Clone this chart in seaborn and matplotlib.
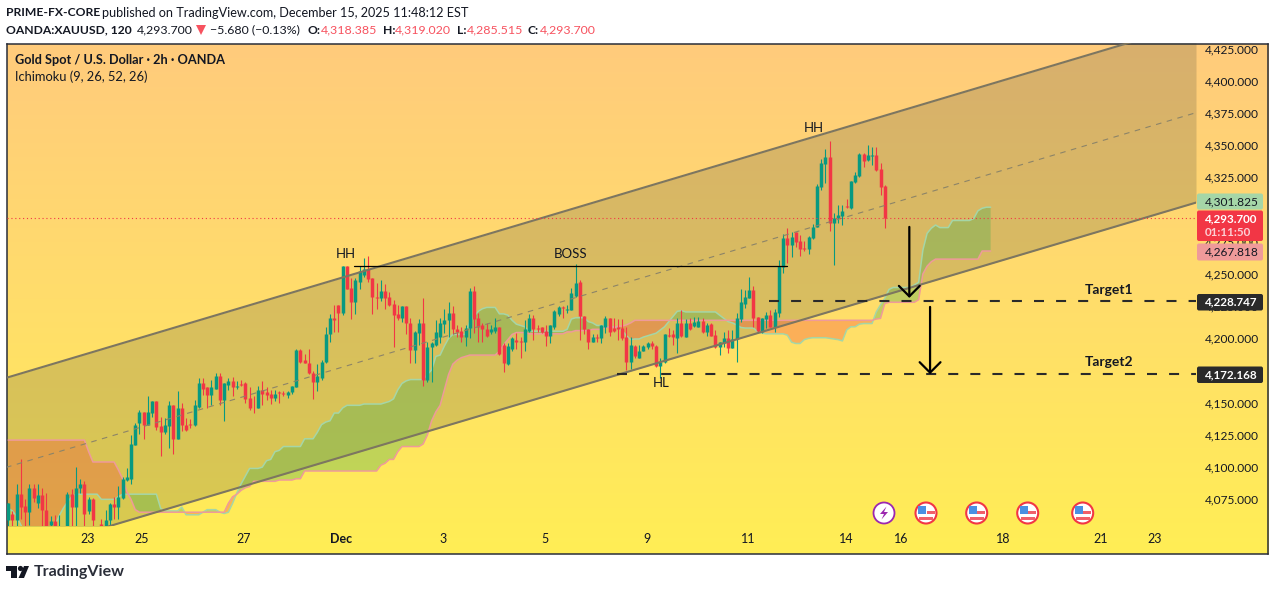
import numpy as np
import pandas as pd
import seaborn as sns
import matplotlib.pyplot as plt
from matplotlib.colors import LinearSegmentedColormap
from matplotlib.patches import Circle, FancyBboxPatch, Polygon, Rectangle

# --- candles ---
OPEN = [
    4059, 4064, 4059, 4079, 4070, 4065, 4084, 4072, 4078, 4067,
    4055, 4058, 4045, 4045, 4050, 4079, 4069, 4084, 4087, 4066,
    4075, 4052, 4056, 4052, 4059, 4071, 4069, 4076, 4090, 4091,
    4117, 4134, 4143, 4133, 4142, 4151, 4132, 4127, 4132, 4148,
    4122, 4146, 4133, 4133.5, 4133, 4147, 4165, 4162, 4156, 4161,
    4171, 4152, 4164, 4167, 4162.5, 4164.5, 4165, 4154, 4147, 4146,
    4160, 4158, 4157, 4154, 4158, 4157.5, 4156, 4158, 4162, 4191,
    4183, 4181, 4173, 4166, 4169, 4182, 4203, 4216, 4226, 4220,
    4256, 4239, 4228, 4244, 4249, 4254, 4247, 4232, 4231, 4237,
    4232, 4227, 4219, 4216, 4225, 4212, 4191, 4204, 4212, 4168,
    4193, 4195, 4201, 4211, 4214, 4220, 4207, 4206, 4201, 4208,
    4237, 4216, 4210.5, 4207, 4205, 4206, 4209, 4195, 4180, 4192,
    4199, 4198, 4197.5, 4206, 4216, 4208, 4209, 4206, 4202, 4209,
    4219, 4224, 4222, 4222, 4233, 4244, 4217, 4207, 4197.5, 4201,
    4200, 4209, 4216, 4208, 4208.5, 4208, 4201, 4182, 4194, 4185,
    4190.5, 4193, 4196, 4194, 4178.5, 4181.5, 4202.5, 4203, 4200.3, 4211.7,
    4201, 4211.7, 4209.6, 4209, 4213.8, 4205.2, 4211.2, 4202.6, 4193.6, 4196.2,
    4200, 4192.8, 4199.3, 4214.8, 4226.7, 4231.6, 4237.6, 4216.9, 4205.2, 4215,
    4218.2, 4209.1, 4220, 4255.7, 4277.7, 4272.5, 4282.3, 4275.6, 4270.2, 4269.4,
    4277.7, 4286.2, 4317.8, 4335.4, 4340.6, 4289.9, 4293.2, 4295, 4302.8, 4301,
    4321.2, 4326.1, 4343.2, 4338.5, 4341.9, 4342.1, 4331.3, 4318.385,
]
HIGH = [
    4072, 4066, 4087, 4106, 4075, 4087, 4087, 4087, 4084, 4080,
    4062, 4063, 4063, 4052, 4081, 4083, 4100, 4091, 4089, 4077,
    4076, 4054, 4060, 4067, 4072, 4077, 4085, 4092, 4099, 4125,
    4134, 4144, 4143, 4155, 4151, 4151, 4139, 4138, 4151, 4148,
    4159, 4150, 4138, 4137, 4152, 4169, 4169, 4162, 4168, 4173,
    4173, 4165, 4169, 4170, 4167, 4168, 4166, 4162, 4155, 4163,
    4167, 4162, 4160, 4160, 4159, 4159, 4159, 4163, 4192, 4192,
    4188, 4192, 4175, 4180, 4183, 4209, 4219, 4226, 4226, 4256,
    4256, 4247, 4247, 4256, 4262, 4264, 4247, 4243, 4245, 4242,
    4236, 4230, 4226, 4225, 4225, 4216, 4206, 4215, 4231, 4197.5,
    4197, 4214, 4216, 4223, 4228, 4225, 4210, 4209, 4210, 4239,
    4241, 4220, 4212, 4212, 4210, 4216, 4209, 4196, 4196, 4201,
    4204, 4201, 4214, 4219, 4218, 4210, 4209, 4210, 4210.5, 4222,
    4225, 4225, 4226, 4239, 4258, 4245, 4217, 4207, 4203, 4203,
    4210.5, 4217, 4216, 4216, 4215, 4215, 4209, 4201, 4195, 4195,
    4195, 4197.5, 4198, 4195, 4185, 4203.5, 4208, 4206.5, 4215.6, 4222,
    4214.8, 4215.6, 4216.9, 4216.9, 4215.6, 4212.2, 4212.2, 4206.5, 4197.5, 4205.2,
    4206.5, 4206.5, 4219.5, 4238.4, 4237.6, 4247.4, 4240.7, 4216.9, 4215.6, 4220.8,
    4222, 4222.6, 4260.9, 4281, 4285.5, 4282.9, 4282.9, 4280.3, 4275.9, 4279.5,
    4288.6, 4319.9, 4339, 4346.8, 4353.3, 4297.6, 4303.6, 4303.6, 4308, 4322.5,
    4329.5, 4344.2, 4343.7, 4350.2, 4348.9, 4348.3, 4335.9, 4319.02,
]
LOW = [
    4050, 4050, 4050, 4060, 4050, 4055, 4073, 4068, 4050, 4040,
    4052, 4045, 4040, 4040, 4045, 4050, 4050, 4080, 4050, 4064,
    4050, 4045, 4045, 4050, 4053, 4060, 4060, 4075, 4089, 4087,
    4117, 4126, 4122, 4133, 4139, 4129, 4109, 4126, 4115, 4110,
    4122, 4128, 4128, 4130, 4132, 4146, 4156, 4146, 4148, 4161,
    4148, 4136, 4160, 4155, 4161, 4163, 4150, 4144, 4142, 4146,
    4148, 4152, 4149, 4151, 4150, 4155, 4154, 4157, 4162, 4181,
    4181, 4172, 4153, 4159, 4168, 4181, 4197.5, 4205, 4205, 4218,
    4238, 4215, 4219, 4238, 4248, 4244, 4219, 4223, 4229, 4223,
    4225, 4193, 4214, 4213, 4203, 4181, 4181, 4195, 4163, 4166,
    4166, 4194, 4196, 4204, 4201, 4203, 4201, 4197.5, 4194, 4200,
    4204.5, 4197.5, 4197, 4201, 4203, 4204, 4187, 4174, 4179, 4190,
    4192, 4185, 4190.5, 4205, 4199, 4205, 4204, 4194, 4196, 4207,
    4217, 4216, 4220, 4222, 4232, 4199, 4203.5, 4192, 4197.5, 4197.5,
    4196, 4204.5, 4202, 4205, 4199, 4199, 4175.5, 4176, 4185, 4184.5,
    4190, 4192, 4192, 4178, 4169, 4180.5, 4201, 4195, 4188.9, 4200.8,
    4201, 4206.5, 4209, 4208.6, 4204.4, 4201.9, 4201.9, 4192.3, 4187.1, 4193,
    4188.9, 4192.3, 4181.9, 4213, 4223.3, 4231.1, 4209.1, 4205.2, 4204, 4207.8,
    4209.1, 4205.2, 4216.9, 4250.5, 4258.3, 4263.5, 4270.7, 4264, 4268.1, 4265.5,
    4276.9, 4286.2, 4315.2, 4320.9, 4283.4, 4257, 4289.3, 4288, 4301.5, 4300.2,
    4320.4, 4325.6, 4333.3, 4338, 4334.6, 4330.2, 4311.3, 4285.515,
]
CLOSE = [
    4072, 4059, 4079, 4069, 4065, 4084, 4076, 4078, 4067, 4050,
    4058, 4052, 4050, 4050, 4079, 4069, 4084, 4087, 4064, 4075,
    4059, 4047, 4050, 4059, 4071, 4069, 4077, 4091, 4092, 4118,
    4133, 4143, 4133, 4143, 4151, 4131, 4127, 4133, 4148, 4122,
    4146, 4133, 4129, 4133, 4148, 4165, 4161, 4156, 4162, 4171,
    4152, 4165, 4167, 4162, 4163, 4164, 4153, 4146, 4146.5, 4160,
    4157, 4156, 4154, 4157, 4157.5, 4157, 4158, 4163, 4191, 4182,
    4181, 4173, 4166, 4171, 4182, 4203, 4216, 4214, 4220, 4256,
    4238, 4228, 4245, 4252, 4254, 4246, 4232, 4231.5, 4237, 4231,
    4226, 4218, 4216, 4225, 4212, 4191, 4205, 4212, 4168, 4193,
    4196, 4205, 4212, 4214, 4220, 4207, 4205, 4201, 4208, 4237,
    4215, 4209, 4207, 4202, 4207, 4209, 4188, 4181, 4194, 4200,
    4197.5, 4197.5, 4207, 4216, 4207, 4207.5, 4205, 4202, 4210, 4221,
    4224, 4223.5, 4223, 4235, 4243, 4217, 4207, 4197.5, 4201, 4200.5,
    4210, 4216, 4205, 4206, 4207, 4200, 4182, 4195, 4186, 4190,
    4194, 4196, 4194, 4178.5, 4182, 4203, 4202, 4201, 4211.7, 4201.8,
    4212, 4207, 4213, 4213.8, 4205.2, 4210.4, 4202.1, 4193.6, 4196.9, 4200,
    4192.8, 4199.3, 4215.6, 4228, 4232.4, 4237.6, 4216.1, 4205.7, 4215.6, 4218.2,
    4209.1, 4220.8, 4256.2, 4277.7, 4272.5, 4278.5, 4275.1, 4269.4, 4269.4, 4278.5,
    4286.2, 4318.3, 4335.9, 4340.6, 4289.9, 4293.7, 4295.8, 4298.9, 4301.8, 4322.2,
    4326.9, 4343.2, 4337.7, 4342.1, 4342.4, 4330.7, 4317.8, 4293.7,
]

# --- ichimoku spans, one value per bar, runs 25 bars past the last candle ---
SPAN_A = [
    4068, 4066, 4062, 4055, 4049, 4045, 4045, 4045, 4045, 4045,
    4047, 4054, 4062, 4068, 4073, 4077, 4079, 4079, 4079, 4079,
    4079, 4079, 4075, 4075, 4075, 4075, 4077, 4079, 4079, 4079,
    4079, 4079, 4079, 4079, 4079, 4079, 4068, 4066, 4066, 4066,
    4066, 4069, 4063, 4063, 4063, 4063, 4065, 4067, 4067, 4067,
    4065, 4064, 4065, 4072, 4080, 4087, 4093, 4099, 4099, 4099,
    4100, 4105, 4106, 4112, 4113, 4116, 4116, 4116, 4116, 4116,
    4122, 4122, 4122, 4127, 4133, 4135, 4136, 4142, 4142, 4146,
    4148, 4148, 4148, 4148, 4149, 4149, 4149, 4149, 4149, 4150,
    4151, 4153, 4160, 4165, 4167, 4168, 4168, 4168, 4168, 4172,
    4175.5, 4186, 4187, 4194, 4200, 4203, 4203, 4203, 4203, 4213,
    4217, 4221, 4223, 4224, 4224, 4224, 4219, 4219, 4218, 4214,
    4211, 4210, 4209, 4205.5, 4205.5, 4205.5, 4205.5, 4205.5, 4205.5, 4205.5,
    4205.5, 4205.5, 4207, 4215, 4216, 4216, 4216, 4213, 4212, 4210,
    4210, 4209, 4209, 4209, 4208, 4206, 4202, 4199, 4199.5, 4199.5,
    4201, 4202, 4203, 4204, 4206.5, 4209, 4213, 4217, 4221, 4221.5,
    4220.5, 4220.5, 4220.5, 4220.5, 4220.5, 4220.5, 4220.5, 4220.5, 4218, 4215.5,
    4213, 4212, 4210.5, 4208.5, 4208, 4208, 4208, 4205, 4204, 4203.5,
    4203.5, 4203.5, 4203.5, 4203.5, 4202.5, 4197, 4196, 4196, 4199, 4200,
    4200.5, 4200.5, 4200.5, 4200.5, 4200, 4199.5, 4199, 4198, 4206.5, 4209,
    4209, 4211, 4211.5, 4211.5, 4211.5, 4220.5, 4226, 4231, 4238, 4239.5,
    4239.5, 4239.5, 4239.5, 4239.5, 4241.5, 4243.5, 4268.5, 4281.5, 4285.5, 4288,
    4286, 4286, 4286, 4291.5, 4291.5, 4291.5, 4291.5, 4291.5, 4293, 4299,
    4301, 4301.8, 4301.8,
]
SPAN_B = [
    4121, 4121, 4121, 4121, 4121, 4121, 4121, 4121, 4121, 4121,
    4121, 4121, 4121, 4121, 4121, 4121, 4121, 4121, 4121, 4112,
    4104, 4104, 4104, 4104, 4104, 4104, 4098, 4091, 4081, 4075,
    4067, 4065, 4065, 4065, 4065, 4065, 4065, 4065, 4065, 4065,
    4065, 4065, 4065, 4065, 4065, 4065, 4065, 4065, 4065, 4065,
    4065, 4065, 4072, 4077, 4079, 4082, 4084, 4085, 4089, 4089,
    4089, 4089, 4089, 4089, 4090, 4090, 4090, 4090, 4091, 4091,
    4097, 4097, 4097, 4097, 4097, 4097, 4097, 4097, 4097, 4097,
    4097, 4097, 4097, 4097, 4097, 4097, 4097, 4097, 4101.5, 4103,
    4106, 4106, 4112, 4116, 4116, 4116, 4116, 4116, 4118, 4125,
    4136, 4143, 4148, 4160, 4172, 4180, 4183, 4185, 4186, 4187,
    4187, 4187, 4187, 4187, 4187, 4187, 4190, 4195, 4199, 4203,
    4204.5, 4204.5, 4204.5, 4203.5, 4203.5, 4203.5, 4203.5, 4203.5, 4203.5, 4203.5,
    4203.5, 4203.5, 4205, 4205, 4206, 4206, 4206, 4206, 4207, 4207,
    4207, 4208.5, 4208.5, 4208.5, 4209.5, 4209.5, 4210.5, 4212, 4214, 4214,
    4214, 4214, 4214, 4214, 4214, 4214, 4214, 4214, 4214, 4214,
    4214, 4214, 4214, 4214, 4214, 4214, 4214, 4214, 4214, 4214,
    4214, 4214, 4214, 4214, 4214, 4214, 4214, 4214, 4214, 4214,
    4214, 4214, 4214, 4214, 4214, 4214, 4214, 4214, 4214, 4214,
    4214, 4214, 4214, 4214, 4214, 4214, 4214, 4214, 4214, 4214,
    4214, 4214, 4214, 4214, 4214, 4215, 4215.5, 4227, 4228, 4228,
    4228, 4228, 4228, 4228, 4228, 4230, 4250, 4256, 4259.5, 4261.5,
    4261.5, 4261.5, 4261.5, 4261.5, 4261.5, 4261.5, 4261.5, 4261.5, 4261.5, 4261.5,
    4267.8, 4267.8, 4267.8,
]

# --- drawings ---
CHANNEL_BARS = [-0.5, 280.5]
CHANNEL_UPPER = [4169.3, 4445.0]
CHANNEL_MID = [4099.8, 4375.2]
CHANNEL_LOWER = [4030.3, 4305.4]
LAST_PRICE = 4293.7
TARGET1 = 4228.747
TARGET2 = 4172.168
BOS_PRICE = 4256.2

# 4,300 sits fully behind the price tags in the picture, so it is not listed
PRICE_TICKS = [4075, 4100, 4125, 4150, 4175, 4200, 4225, 4250, 4275, 4325, 4350, 4375, 4400, 4425]
DAY_BARS = [18.7, 31.6, 55.7, 78.6, 102.7, 126.8, 150.9, 174.7, 197.9, 210.9, 234.9, 257.9, 270.8]
DAY_LABELS = ['23', '25', '27', 'Dec', '3', '5', '9', '11', '14', '16', '18', '21', '23']

UP = '#089981'
DOWN = '#f23645'
INK = '#131722'
W, H = 1275, 591

sns.set_theme(style='white')
plt.rcParams['font.family'] = ['Lato', 'DejaVu Sans']

fig = plt.figure(figsize=(W / 100, H / 100), dpi=100, facecolor='white')


def px_axes(left, top, right, bottom):
    return fig.add_axes([left / W, 1 - bottom / H, (right - left) / W, (bottom - top) / H])


# gradient behind everything, price scale included
bg = px_axes(6.5, 43.5, 1268, 554)
cmap = LinearSegmentedColormap.from_list('bg', ['#ffcb7c', '#ffdd6b', '#ffee55'])
bg.imshow(np.linspace(0, 1, 256)[:, None], aspect='auto', cmap=cmap)
bg.set_xticks([])
bg.set_yticks([])
for side in bg.spines.values():
    side.set_color('#2a2e39')
    side.set_linewidth(1.1)

ax = px_axes(6.5, 43, 1196, 526)
ax.patch.set_alpha(0)

# channel
ax.fill_between(CHANNEL_BARS, CHANNEL_LOWER, CHANNEL_UPPER, color='#3c4134', alpha=0.2, lw=0, zorder=1)

# cloud
bars_cloud = np.arange(len(SPAN_A))
span_a = np.array(SPAN_A)
span_b = np.array(SPAN_B)
ax.fill_between(bars_cloud, span_a, span_b, where=span_a >= span_b, interpolate=True,
                color='#4caf50', alpha=0.35, lw=0, zorder=2)
ax.fill_between(bars_cloud, span_a, span_b, where=span_a < span_b, interpolate=True,
                color='#f44336', alpha=0.3, lw=0, zorder=2)
sns.lineplot(x=bars_cloud, y=span_a, color='#a5d6a7', lw=1.1, ax=ax, zorder=2.5, estimator=None)
sns.lineplot(x=bars_cloud, y=span_b, color='#ef9a9a', lw=1.1, ax=ax, zorder=2.5, estimator=None)

# candles
bars = np.arange(len(OPEN))
o, h, l, c = map(np.array, (OPEN, HIGH, LOW, CLOSE))
direction = np.where(c >= o, 'up', 'down')
palette = {'up': UP, 'down': DOWN}
wicks = pd.DataFrame({
    'bar': np.repeat(bars, 2),
    'price': np.column_stack([l, h]).ravel(),
    'dir': np.repeat(direction, 2),
})
bodies = pd.DataFrame({
    'bar': np.repeat(bars, 2),
    'price': np.column_stack([o, c]).ravel(),
    'dir': np.repeat(direction, 2),
})
sns.lineplot(data=wicks, x='bar', y='price', units='bar', hue='dir', palette=palette, estimator=None,
             sort=False, legend=False, lw=0.8, solid_capstyle='butt', ax=ax, zorder=3)
sns.lineplot(data=bodies, x='bar', y='price', units='bar', hue='dir', palette=palette, estimator=None,
             sort=False, legend=False, lw=2.5, solid_capstyle='butt', ax=ax, zorder=3.1)

# channel lines
sns.lineplot(x=CHANNEL_BARS, y=CHANNEL_UPPER, color='#7d7660', lw=1.5, ax=ax, zorder=4, estimator=None)
sns.lineplot(x=CHANNEL_BARS, y=CHANNEL_LOWER, color='#7d7660', lw=1.5, ax=ax, zorder=4, estimator=None)
sns.lineplot(x=CHANNEL_BARS, y=CHANNEL_MID, color='#8c8468', lw=0.8, ax=ax, zorder=4, estimator=None,
             linestyle=(0, (5, 5)))

# last price and drawn levels
ax.axhline(LAST_PRICE, color=DOWN, lw=0.8, ls=(0, (1, 2.5)), zorder=4)
ax.plot([81.7, 183.9], [BOS_PRICE, BOS_PRICE], color='black', lw=0.9, zorder=5)
ax.plot([179.7, 280.5], [TARGET1, TARGET1], color='#2a2a2a', lw=1.5, ls=(0, (4.8, 5.8)), zorder=5)
ax.plot([143.7, 280.5], [TARGET2, TARGET2], color='#2a2a2a', lw=1.5, ls=(0, (4.8, 5.8)), zorder=5)

for start, end in [((212.8, 4286.5), (212.8, 4231.4)), ((217.7, 4224.4), (217.7, TARGET2))]:
    ax.annotate('', xy=end, xytext=start, zorder=6,
                arrowprops=dict(arrowstyle='->,head_length=0.75,head_width=0.75', color='black',
                                lw=1.6, shrinkA=0, shrinkB=0, mutation_scale=10))

for x, y, label in [(79.6, 4265.5, 'HH'), (132.7, 4265.5, 'BOSS'), (190.3, 4363.4, 'HH'), (154.2, 4165.4, 'HL')]:
    ax.text(x, y, label, ha='center', va='center', fontsize=9.5, color=INK, zorder=7)
for y, label in [(4237.8, 'Target1'), (4181.9, 'Target2')]:
    ax.text(260.0, y, label, ha='center', va='center', fontsize=10, fontweight='bold', color=INK, zorder=7)

ax.set_xlim(-0.4, 280.5)
ax.set_ylim(4054.3, 4429.3)
ax.set_xlabel('')
ax.set_ylabel('')
ax.yaxis.tick_right()
ax.set_yticks(PRICE_TICKS)
ax.set_yticklabels([f'{p:,.3f}' for p in PRICE_TICKS], fontsize=8.6, color=INK)
ax.set_xticks(DAY_BARS)
ax.set_xticklabels(DAY_LABELS, fontsize=9, color=INK)
ax.get_xticklabels()[3].set_fontweight('bold')
ax.tick_params(axis='both', length=0)
ax.tick_params(axis='y', pad=6.5)
ax.tick_params(axis='x', pad=5)
for side in ax.spines.values():
    side.set_visible(False)

# overlay in pixels for the page furniture
top = fig.add_axes([0, 0, 1, 1], facecolor='none')
top.set_xlim(0, W)
top.set_ylim(H, 0)
top.axis('off')


def tag(y0, y1, fill):
    top.add_patch(FancyBboxPatch((1198, y0 + 1), 64, y1 - y0 - 2, boxstyle='round,pad=1,rounding_size=2',
                                 fc=fill, ec='none', zorder=3))


tag(193.5, 209.5, '#a5d6a7')
tag(210.5, 241, DOWN)
tag(243.5, 260.5, '#ef9a9a')
tag(294, 310.5, '#2a2a2a')
tag(366.5, 383, '#2a2a2a')
tag_font = dict(ha='left', va='center', zorder=4)
top.text(1205, 201.5, '4,301.825', color=INK, fontsize=8.6, **tag_font)
top.text(1205, 218.5, '4,293.700', color='white', fontweight='bold', fontsize=8.4, **tag_font)
top.text(1205, 232, '01:11:50', color='#fcd0d5', fontweight='bold', fontsize=8.4, **tag_font)
top.text(1205, 252, '4,267.818', color=INK, fontsize=8.6, **tag_font)
top.text(1205, 302, '4,228.747', color='white', fontweight='bold', fontsize=8.4, **tag_font)
top.text(1205, 375, '4,172.168', color='white', fontweight='bold', fontsize=8.4, **tag_font)

# header
RED_TXT = '#f7525f'
reg = dict(fontsize=8.9, va='center', color=INK)
bold = dict(fontsize=8.7, va='center', color=INK, fontweight='bold')
top.text(6, 13, 'PRIME-FX-CORE', **bold)
top.text(101.5, 13, 'published on TradingView.com, December 15, 2025 11:48:12 EST', fontsize=9.1, va='center', color=INK)
top.text(6, 30, 'OANDA:XAUUSD, 120', **bold)
top.text(137, 30, '4,293.700', **reg)
top.add_patch(Polygon([(196, 25), (206, 25), (201, 35)], fc=RED_TXT, ec='none'))
top.text(210.5, 30, '\u22125.680 (\u22120.13%)', **reg)
for lx, vx, letter, value in [(307.5, 321, 'O:', '4,318.385'), (382.5, 395, 'H:', '4,319.020'),
                              (456.5, 467, 'L:', '4,285.515'), (527.5, 540, 'C:', '4,293.700')]:
    top.text(lx, 30, letter, **bold)
    top.text(vx, 30, value, fontsize=8.9, va='center', color=RED_TXT)
top.text(15, 60, 'Gold Spot / U.S. Dollar \u00b7 2h \u00b7 OANDA', fontsize=9.2, va='center', color=INK, fontweight='bold')
top.text(15, 77, 'Ichimoku (9, 26, 52, 26)', fontsize=9.3, va='center', color=INK)

# event badges
purple = '#9c27b0'
top.add_patch(Circle((884, 513), 10.5, fc='white', ec=purple, lw=1.3))
top.add_patch(Polygon([(886.5, 506.5), (880, 514), (884, 514), (881.5, 519.5), (888, 512), (884, 512)],
                      fc=purple, ec='none'))
for fx in [926, 976.7, 1027.7, 1082.7]:
    top.add_patch(Circle((fx, 513), 10.5, fc='white', ec='#f23645', lw=1.5, zorder=2))
    top.add_patch(Rectangle((fx + 0.5, 510.5), 8, 3, fc='#f0606a', ec='none', zorder=3))
    top.add_patch(Rectangle((fx - 7, 517), 14, 3, fc='#f0606a', ec='none', zorder=3))
    top.add_patch(Rectangle((fx - 8, 506), 8, 8, fc='#4a90e2', ec='none', zorder=3))

# logo
logo = '#131722'
top.add_patch(Polygon([(6, 566), (17, 566), (17, 578), (11, 578), (11, 571), (6, 571)], fc=logo, ec='none'))
top.add_patch(Circle((20.5, 568.5), 2.6, fc=logo, ec='none'))
top.add_patch(Polygon([(24, 566), (29, 566), (24, 578), (18.5, 578)], fc=logo, ec='none'))
top.text(33.5, 572, 'TradingView', fontsize=11.5, fontweight='bold', va='center', color='#2a2e39')

fig.savefig('out.png', dpi=100, facecolor='white')
